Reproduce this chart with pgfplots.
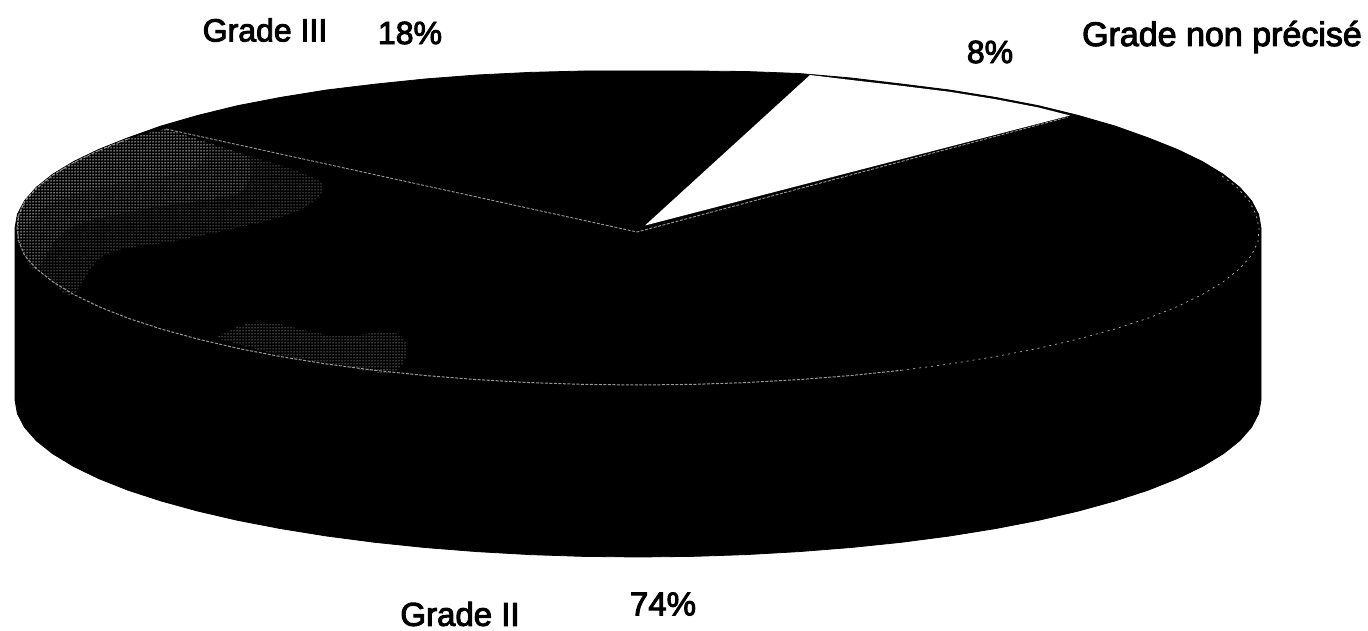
\documentclass[border=0pt]{standalone}
\usepackage{pgfplots}
\pgfplotsset{compat=1.18}
\usetikzlibrary{patterns}
\usepackage{fontspec}
\setmainfont{Liberation Sans}[FakeBold=3]
\begin{document}
\begin{tikzpicture}
\begin{axis}[
  width=1368pt, height=631pt, scale only axis,
  xmin=0, xmax=1368, ymin=0, ymax=631, y dir=reverse,
  hide axis, clip=false, no markers,
  every axis plot/.append style={line join=round},
  stipple/.style={draw=none, smooth, tension=0.6, pattern=dots, pattern color=#1}]
\path (axis cs:0,0) rectangle (axis cs:1368,631);

% Drum: back rim of the top face, then the lower rim of the side wall
\addplot[draw=black, line width=0.8pt, fill=black] coordinates {
 (1261,228) (1258.6,214.3) (1251.5,200.7) (1239.8,187.4) (1223.4,174.3) (1202.6,161.7)
 (1177.5,149.5) (1148.3,137.9) (1115.2,126.1) (1078.5,115.5) (1038.5,105.7) (995.4,97.4)
 (949.5,90) (901.3,84) (851.1,78) (799.2,73.5) (746.2,71.5) (692.3,71) (638,71)
 (583.7,71) (529.8,72.4) (476.8,75) (424.9,79) (374.7,84.2) (326.5,90) (280.6,97.4)
 (237.5,105.7) (197.5,115.5) (160.8,126.1) (127.7,137.9) (98.5,149.5) (73.4,161.7)
 (52.6,174.3) (36.2,187.4) (24.5,200.7) (17.4,214.3) (15,228)
 (15,400) (17.4,413.7) (24.5,427.3) (36.2,440.6) (52.6,453.7) (73.4,466.3) (98.5,478.5)
 (127.7,490.1) (160.8,500.9) (197.5,511) (237.5,520.3) (280.6,528.6) (326.5,536) (374.7,542.3)
 (424.9,547.5) (476.8,551.6) (529.8,554.6) (583.7,556.4) (638,557)
 (692.3,556.4) (746.2,554.6) (799.2,551.6) (851.1,547.5) (901.3,542.3) (949.5,536)
 (995.4,528.6) (1038.5,520.3) (1078.5,511) (1115.2,500.9) (1148.3,490.1) (1177.5,478.5)
 (1202.6,466.3) (1223.4,453.7) (1239.8,440.6) (1251.5,427.3) (1258.6,413.7) (1261,400)
 (1261,228)} -- cycle;

% Grade non précisé: 8 % wedge on the top face
\addplot[draw=none, fill=white] coordinates {
 (645,225.5) (1070,115.5) (1038.5,107.5) (995.4,99.2) (949.5,91.8) (901.3,85.8)
 (851.1,80) (810,75)} -- cycle;

% Stippled light on the Grade II face, fading away from the upper left rim
\addplot[stipple=gray!20] coordinates {
 (166,129) (127.7,138.9) (98.5,150.5) (73.4,162.7) (52.6,175.3) (36.2,188.4) (24.5,201.7)
 (18.4,214.3) (16,228) (18.4,241.7) (24.5,255.3) (36.2,268.6) (52.6,281.7) (73.4,294.3)
 (105,255) (180,240) (290,214) (322,184) (262,160)} -- cycle;
\addplot[stipple=gray!40] coordinates {
 (166,129) (127.7,138.9) (98.5,150.5) (73.4,162.7) (52.6,175.3) (36.2,188.4) (24.5,201.7)
 (18.4,214.3) (16,228) (18.4,241.7) (24.5,255.3) (36.2,268.6) (70,228) (150,208) (240,192)
 (248,156)} -- cycle;
\addplot[stipple=gray!60] coordinates {
 (166,129) (127.7,138.9) (98.5,150.5) (73.4,162.7) (52.6,175.3) (36.2,188.4) (24.5,201.7)
 (18.4,214.3) (16,228) (18.4,241.7) (45,208) (100,187) (190,170) (210,144)} -- cycle;
% Faint stippling towards the front of the face
\addplot[stipple=gray!12] coordinates {
 (215,338) (260,322) (330,335) (400,335) (395,372) (330,364) (280.6,355.6)} -- cycle;

% Broken pale rim and wedge edges
\addplot[draw=gray!80, line width=0.9pt, dash pattern=on 3pt off 1.5pt] coordinates {
 (166,129) (637,232) (1068,117)};
\addplot[draw=gray!80, line width=1pt, dash pattern=on 3pt off 1.5pt] coordinates {
 (127.7,139) (98.5,150.5) (73.4,162.7) (52.6,175.3) (36.2,188.4) (24.5,201.7) (19,214.3)
 (17,228) (19,241.7) (24.5,255.3) (36.2,268.6) (52.6,281.7) (73.4,294.3) (98.5,306.5)
 (127.7,318.1) (160.8,328.9) (197.5,339) (237.5,348.3) (280.6,356.6) (326.5,364)
 (374.7,370.3) (424.9,375.5) (476.8,379.6) (529.8,382.6) (583.7,384.4) (638,385)
 (692.3,384.4) (746.2,382.6) (799.2,379.6) (851.1,375.5) (901.3,370.3)};
\addplot[draw=gray!60, line width=0.7pt, dash pattern=on 2pt off 4pt] coordinates {
 (901.3,370.3) (949.5,364) (995.4,356.6) (1038.5,348.3) (1078.5,339) (1115.2,328.9)
 (1148.3,318.1) (1177.5,306.5) (1202.6,294.3) (1223.4,281.7) (1239.8,268.6) (1251.5,255.3)
 (1258,241.7) (1259,228) (1256,214.3) (1249,200.7) (1237,187.4) (1220,174.3)};

% Category names and shares
\node[font=\fontsize{32}{32}\selectfont] at (axis cs:265,30) {Grade III};
\node[font=\fontsize{32}{32}\selectfont] at (axis cs:410,33) {18\%};
\node[font=\fontsize{32}{32}\selectfont] at (axis cs:990,52) {8\%};
\node[font=\fontsize{34}{34}\selectfont] at (axis cs:1222,37) {Grade non précisé};
\node[font=\fontsize{33}{33}\selectfont] at (axis cs:460,614) {Grade II};
\node[font=\fontsize{33}{33}\selectfont] at (axis cs:663,604) {74\%};
\end{axis}
\end{tikzpicture}
\end{document}
